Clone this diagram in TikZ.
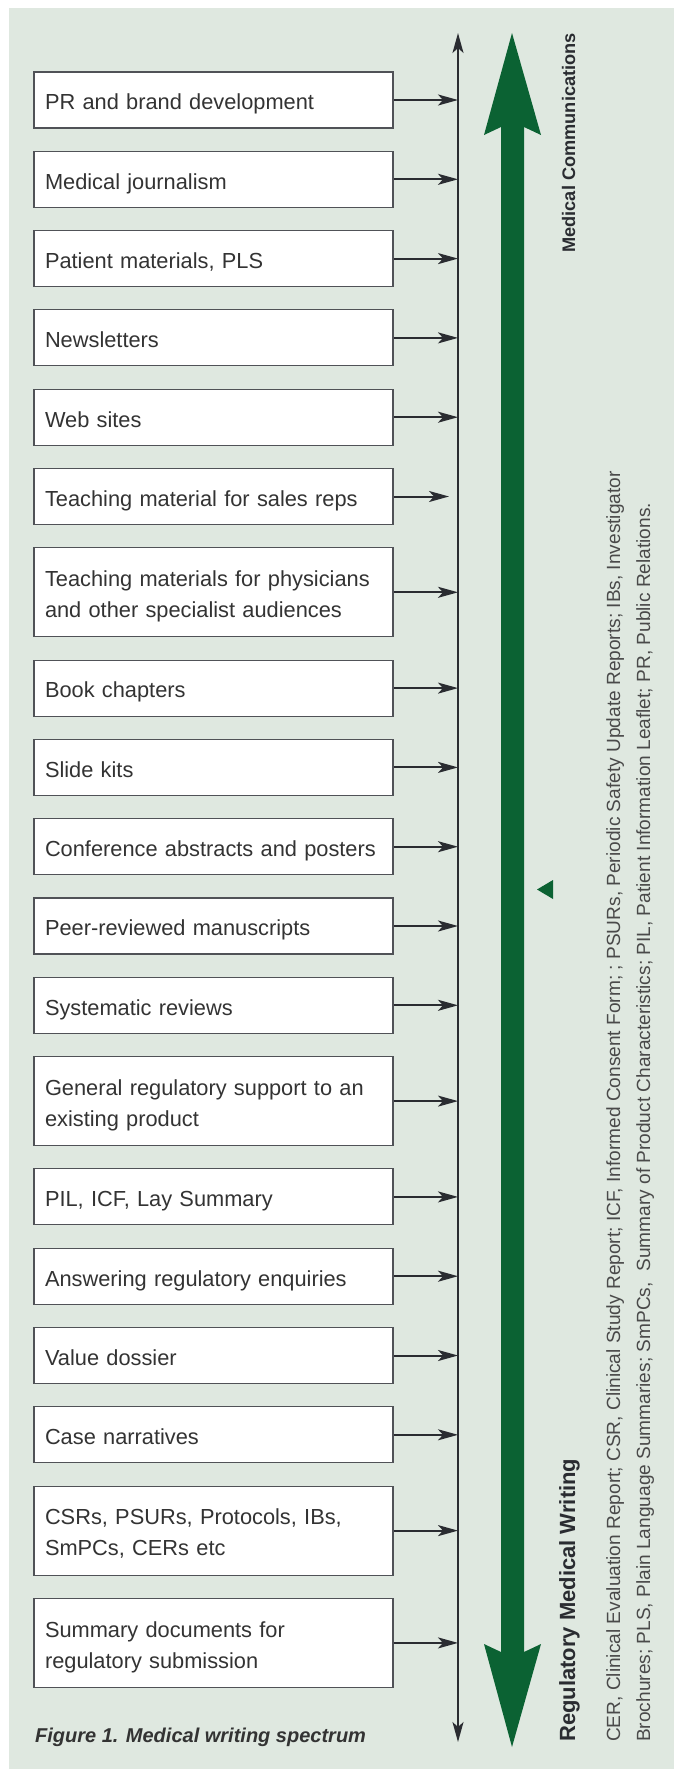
\documentclass[tikz,border=0pt]{standalone}
\usepackage{fontspec}
\setmainfont{Liberation Sans}
\usetikzlibrary{arrows.meta}
\definecolor{panel}{HTML}{DFE8E0}
\definecolor{dkgreen}{HTML}{0B6233}
\definecolor{ink}{HTML}{2A2C31}
\definecolor{boxline}{HTML}{505257}
\definecolor{txt}{HTML}{333333}
\definecolor{notetxt}{HTML}{4A4A4A}
\newcommand\mystrut{\rule[-4.7pt]{0pt}{29pt}}
\begin{document}
\begin{tikzpicture}[x=1pt,y=1pt,
  box/.style={draw=boxline, line width=1.1pt, fill=white, text=txt,
    font=\fontsize{21.8}{31}\selectfont, text width=337pt, inner xsep=11pt,
    inner ysep=0pt, align=left, minimum height=56pt, anchor=center},
  tall/.style={box, minimum height=89pt},
  conn/.style={draw=ink, line width=2pt, -{Stealth[length=20pt,width=11pt,inset=5pt]}},
  axisline/.style={draw=ink, line width=2pt, {Stealth[length=20pt,width=11pt,inset=5pt]}-{Stealth[length=20pt,width=11pt,inset=5pt]}},
  vlabel/.style={rotate=90, inner sep=0pt, text=ink, font=\bfseries},
  note/.style={rotate=90, inner sep=0pt, text=notetxt, font=\fontsize{19.1}{23}\selectfont, anchor=base west}
]
\useasboundingbox (0,0) rectangle (674,-1769);
\fill[white] (0,0) rectangle (674,-1769);
\fill[panel] (9,-8) rectangle (674,-1769);

% axis
\coordinate (axtop) at (458,-33);
\coordinate (axbot) at (458,-1742);
\draw[axisline] (axbot) -- (axtop);

% green double arrow
\fill[dkgreen] (512,-33) -- (541,-135) -- (524,-127) -- (524,-1652) -- (541,-1644)
  -- (512,-1747) -- (484,-1644) -- (501,-1652) -- (501,-127) -- (484,-135) -- cycle;
\fill[dkgreen] (537,-889.5) -- (553,-880) -- (553,-899) -- cycle;

% boxes
\node[box] (b1) at (213.5,-100) {\mystrut PR and brand development};
\node[box] (b2) at (213.5,-179.3) {\mystrut Medical journalism};
\node[box] (b3) at (213.5,-258.6) {\mystrut Patient materials, PLS};
\node[box] (b4) at (213.5,-337.9) {\mystrut Newsletters};
\node[box] (b5) at (213.5,-417.2) {\mystrut Web sites};
\node[box] (b6) at (213.5,-496.5) {\mystrut Teaching material for sales reps};
\node[tall] (b7) at (213.5,-592.3) {\mystrut Teaching materials for physicians\\\mystrut and other specialist audiences};
\node[box] (b8) at (213.5,-688.1) {\mystrut Book chapters};
\node[box] (b9) at (213.5,-767.4) {\mystrut Slide kits};
\node[box] (b10) at (213.5,-846.7) {\mystrut Conference abstracts and posters};
\node[box] (b11) at (213.5,-926) {\mystrut Peer-reviewed manuscripts};
\node[box] (b12) at (213.5,-1005.3) {\mystrut Systematic reviews};
\node[tall] (b13) at (213.5,-1101.1) {\mystrut General regulatory support to an\\\mystrut existing product};
\node[box] (b14) at (213.5,-1196.9) {\mystrut PIL, ICF, Lay Summary};
\node[box] (b15) at (213.5,-1276.2) {\mystrut Answering regulatory enquiries};
\node[box] (b16) at (213.5,-1355.5) {\mystrut Value dossier};
\node[box] (b17) at (213.5,-1434.8) {\mystrut Case narratives};
\node[tall] (b18) at (213.5,-1530.6) {\mystrut CSRs, PSURs, Protocols, IBs,\\\mystrut SmPCs, CERs etc};
\node[tall] (b19) at (213.5,-1642.9) {\mystrut Summary documents for\\\mystrut regulatory submission};

% connectors
\foreach \b in {b1,b2,b3,b4,b5,b7,b8,b9,b10,b11,b12,b13,b14,b15,b16,b17,b18,b19}
  \draw[conn] (\b.east) -- (\b.east -| axtop);
\draw[conn, shorten >=9pt] (b6.east) -- (b6.east -| axtop);

% vertical labels
\node[vlabel, anchor=base east, font=\fontsize{18.2}{22}\selectfont\bfseries] (medcom) at (575,-33) {Medical Communications};
\node[vlabel, anchor=base west, font=\fontsize{22}{26}\selectfont\bfseries] (regmw) at (575,-1742) {Regulatory Medical Writing};
\node[note] (note1) at (620,-1742) {CER, Clinical Evaluation Report; CSR, Clinical Study Report; ICF, Informed Consent Form; ; PSURs, Periodic Safety Update Reports; IBs, Investigator};
\node[note] (note2) at (650,-1742) {Brochures; PLS, Plain Language Summaries; SmPCs,\ \ Summary of Product Characteristics; PIL, Patient Information Leaflet; PR, Public Relations.};

% caption
\node[anchor=base west, inner sep=0pt, text=txt, font=\fontsize{20}{24}\selectfont\bfseries\itshape] (cap) at (35,-1742) {Figure 1. Medical writing spectrum};
\end{tikzpicture}
\end{document}
